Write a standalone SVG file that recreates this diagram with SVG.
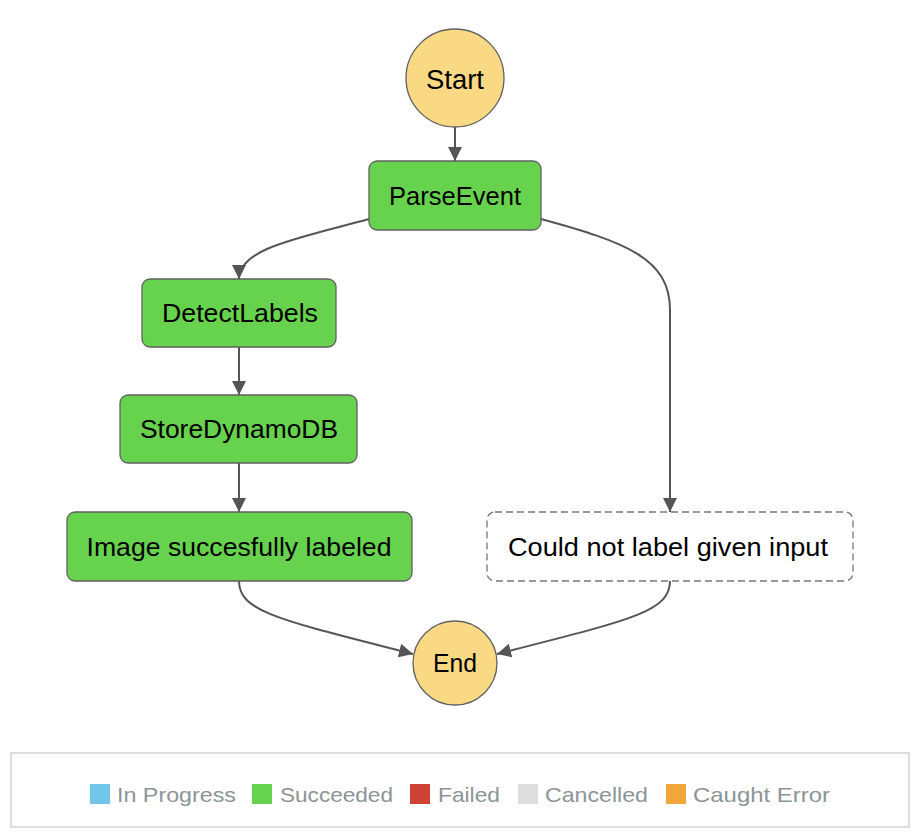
<svg xmlns="http://www.w3.org/2000/svg" width="922" height="836" viewBox="0 0 922 836">
<style>
.node{fill:#67d24e;stroke:#606060;stroke-width:1.3}
.term{fill:#fad985;stroke:#606060;stroke-width:1.3}
.dash{fill:#fff;stroke:#777;stroke-width:1.3;stroke-dasharray:7,4}
.lbl{font-family:"Liberation Sans",Arial,sans-serif;font-size:25px;fill:#000;text-anchor:middle}
.edge{fill:none;stroke:#555;stroke-width:2}
.leg{font-family:"Liberation Sans",Arial,sans-serif;font-size:21px;fill:#8c9595}
</style>
<defs>
<marker id="arr" markerUnits="userSpaceOnUse" markerWidth="14" markerHeight="14" viewBox="0 0 14 14" refX="14" refY="7" orient="auto">
<path d="M0,0 L14,7 L0,14 Z" fill="#555"/>
</marker>
</defs>
<g id="connectors">
<path class="edge" d="M455,127 L455,161" marker-end="url(#arr)"/>
<path class="edge" d="M369,219 C300,238 239,248 239,279" marker-end="url(#arr)"/>
<path class="edge" d="M541,219 C625,242 670,258 670,310 L670,512" marker-end="url(#arr)"/>
<path class="edge" d="M239,347 L239,395" marker-end="url(#arr)"/>
<path class="edge" d="M239,463 L239,512" marker-end="url(#arr)"/>
<path class="edge" d="M239,581 C239,612 280,620 413,654" marker-end="url(#arr)"/>
<path class="edge" d="M670,581 C670,612 630,620 497,654" marker-end="url(#arr)"/>
</g>
<g id="start"><circle class="term" cx="455" cy="78" r="49"/><text class="lbl" x="455" y="89" style="font-size:27px" textLength="58" lengthAdjust="spacingAndGlyphs">Start</text></g>
<g id="parseevent"><rect class="node" x="369" y="161" width="172" height="69" rx="8"/><text class="lbl" x="455" y="205" textLength="132" lengthAdjust="spacingAndGlyphs">ParseEvent</text></g>
<g id="detectlabels"><rect class="node" x="142" y="279" width="194" height="68" rx="8"/><text class="lbl" x="240" y="322" textLength="156" lengthAdjust="spacingAndGlyphs">DetectLabels</text></g>
<g id="storedynamodb"><rect class="node" x="120" y="395" width="237" height="68" rx="8"/><text class="lbl" x="239" y="438" textLength="198" lengthAdjust="spacingAndGlyphs">StoreDynamoDB</text></g>
<g id="imagelabeled"><rect class="node" x="67" y="512" width="345" height="69" rx="8"/><text class="lbl" x="239" y="556" textLength="305" lengthAdjust="spacingAndGlyphs">Image succesfully labeled</text></g>
<g id="couldnot"><rect class="dash" x="487" y="512" width="366" height="69" rx="8"/><text class="lbl" x="668" y="556" textLength="320" lengthAdjust="spacingAndGlyphs">Could not label given input</text></g>
<g id="end"><circle class="term" cx="455" cy="663" r="42"/><text class="lbl" x="455" y="672" textLength="44" lengthAdjust="spacingAndGlyphs">End</text></g>
<g id="legend">
<rect x="11" y="753" width="898" height="74" fill="#fff" stroke="#dddddd" stroke-width="2"/>
<rect x="90" y="784" width="20" height="20" fill="#72c6e9"/><text class="leg" x="117" y="802" textLength="119" lengthAdjust="spacingAndGlyphs">In Progress</text>
<rect x="252" y="784" width="20" height="20" fill="#67d24e"/><text class="leg" x="280" y="802" textLength="113" lengthAdjust="spacingAndGlyphs">Succeeded</text>
<rect x="410" y="784" width="20" height="20" fill="#cd4235"/><text class="leg" x="438" y="802" textLength="62" lengthAdjust="spacingAndGlyphs">Failed</text>
<rect x="518" y="784" width="20" height="20" fill="#dddddd"/><text class="leg" x="545" y="802" textLength="103" lengthAdjust="spacingAndGlyphs">Cancelled</text>
<rect x="666" y="784" width="20" height="20" fill="#f2a73b"/><text class="leg" x="693" y="802" textLength="137" lengthAdjust="spacingAndGlyphs">Caught Error</text>
</g>
</svg>
